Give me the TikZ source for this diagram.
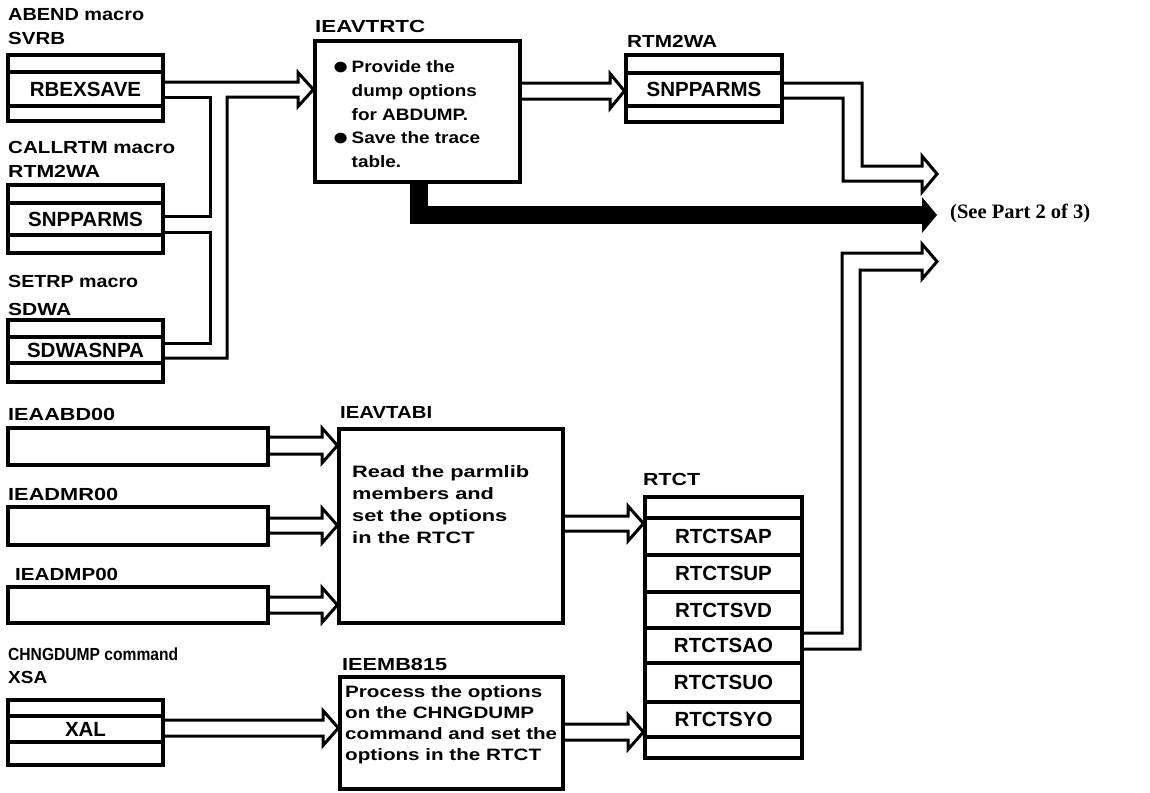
\documentclass[tikz,border=0pt]{standalone}
\usepackage{fontspec}
\usepackage{graphicx}
\setmainfont{Liberation Sans}
\newfontfamily\seriffont{Liberation Serif}
\newcommand\labw[2]{\resizebox{#1pt}{\height}{#2}}
\newcommand\bigbul{\makebox[17pt][l]{\raisebox{-1.2pt}{\scalebox{1.5}{●}}}}
\newcommand\hollowarr[5]{% #1 source anchor, #2 target anchor, #3 head base x, #4 centre y, #5 half gap
  \pgfmathsetmacro\hya{#4-#5}\pgfmathsetmacro\hyb{#4+#5}%
  \pgfmathsetmacro\hha{#4-17.5}\pgfmathsetmacro\hhb{#4+17.5}%
  \draw[hol] (#1 |- 0,\hya) -- (#3,\hya) -- (#3,\hha) -- (#2 |- 0,#4) -- (#3,\hhb) -- (#3,\hyb) -- (#1 |- 0,\hyb);}
\begin{document}
\begin{tikzpicture}[x=1pt,y=-1pt,
  rec/.style={draw, line width=3.2pt, inner sep=0pt, minimum width=155pt},
  fld/.style={font=\fontsize{20.5}{20.5}\selectfont\bfseries},
  lbl/.style={font=\fontsize{17.5}{17.5}\selectfont\bfseries, anchor=base west, inner sep=0pt},
  body/.style={anchor=base west, inner sep=0pt},
  hol/.style={line width=3pt, line join=miter},
  fat/.style={line width=18pt, line join=miter},
  proc/.style={draw, line width=3.2pt, inner sep=0pt},
]
\useasboundingbox (0,0) rectangle (1150,792);

% ---- SVRB record
\node[lbl] (labend) at (8,21) {\labw{136}{ABEND macro}};
\node[lbl] (lsvrb) at (8,45) {\labw{57}{SVRB}};
\node[rec, minimum height=17pt] (svrbT) at (85.5,63.5) {};
\node[rec, minimum height=34pt, fld] (svrb) at (85.5,89) {RBEXSAVE};
\node[rec, minimum height=15pt] (svrbB) at (85.5,113.5) {};

% ---- RTM2WA record (left)
\node[lbl] (lcall) at (8,153) {\labw{167}{CALLRTM macro}};
\node[lbl] (lrtm) at (8,177) {\labw{92}{RTM2WA}};
\node[rec, minimum height=18pt] (rtmT) at (85.5,194) {};
\node[rec, minimum height=32pt, fld] (rtm) at (85.5,219) {SNPPARMS};
\node[rec, minimum height=18pt] (rtmB) at (85.5,244) {};

% ---- SDWA record
\node[lbl] (lsetrp) at (8,287) {\labw{130}{SETRP macro}};
\node[lbl] (lsdwa) at (8,315) {\labw{63}{SDWA}};
\node[rec, minimum height=17pt] (sdwaT) at (85.5,328.5) {};
\node[rec, minimum height=26pt, fld] (sdwa) at (85.5,350) {SDWASNPA};
\node[rec, minimum height=19pt] (sdwaB) at (85.5,372.5) {};

% ---- parmlib members
\node[lbl] (labd) at (8,420) {\labw{107}{IEAABD00}};
\node[rec, minimum width=260pt, minimum height=37pt] (abd) at (138,446.5) {};
\node[lbl] (ldmr) at (8,500) {\labw{110}{IEADMR00}};
\node[rec, minimum width=260pt, minimum height=38pt] (dmr) at (138,526) {};
\node[lbl] (ldmp) at (15,580) {\labw{103}{IEADMP00}};
\node[rec, minimum width=260pt, minimum height=36pt] (dmp) at (138,605) {};

% ---- XSA record
\node[lbl] (lchng) at (8,660) {\labw{170}{CHNGDUMP command}};
\node[lbl] (lxsa) at (8,683) {\labw{39}{XSA}};
\node[rec, minimum height=16pt] (xsaT) at (85.5,708) {};
\node[rec, minimum height=26pt, fld] (xal) at (85.5,729) {XAL};
\node[rec, minimum height=23pt] (xsaB) at (85.5,753.5) {};

% ---- IEAVTRTC
\node[lbl] (ltrtc) at (315,33) {\labw{110}{IEAVTRTC}};
\node[proc, minimum width=205pt, minimum height=141pt] (trtc) at (417.5,111.5) {};
\node[body, font=\fontsize{16.5}{23.6}\selectfont\bfseries] (trtctxt) at (332,73)
  {\labw{148}{\begin{tabular}[t]{@{}l@{}}\bigbul Provide the\\ \hspace*{17pt}dump options\\ \hspace*{17pt}for ABDUMP.\\ \bigbul Save the trace\\ \hspace*{17pt}table.\end{tabular}}};

% ---- RTM2WA record (right)
\node[lbl] (lrtm2) at (627,48) {\labw{90}{RTM2WA}};
\node[rec, minimum width=156pt, minimum height=18pt] (rtm2T) at (704,64) {};
\node[rec, minimum width=156pt, minimum height=33pt, fld] (rtm2) at (704,89.5) {SNPPARMS};
\node[rec, minimum width=156pt, minimum height=16pt] (rtm2B) at (704,114) {};

% ---- IEAVTABI
\node[lbl] (ltabi) at (340,418) {\labw{92}{IEAVTABI}};
\node[proc, minimum width=224pt, minimum height=194pt] (tabi) at (451,526) {};
\node[body, font=\fontsize{16.5}{22}\selectfont\bfseries] (tabitxt) at (352,477)
  {\labw{177}{\begin{tabular}[t]{@{}l@{}}Read the parmlib\\ members and\\ set the options\\ in the RTCT\end{tabular}}};

% ---- IEEMB815
\node[lbl] (lmb) at (342,670) {\labw{105}{IEEMB815}};
\node[proc, minimum width=223pt, minimum height=112pt] (mb) at (451.5,733) {};
\node[body, font=\fontsize{16.5}{21}\selectfont\bfseries] (mbtxt) at (345,697)
  {\labw{212}{\begin{tabular}[t]{@{}l@{}}Process the options\\ on the CHNGDUMP\\ command and set the\\ options in the RTCT\end{tabular}}};

% ---- RTCT
\node[lbl] (lrtct) at (643,485) {\labw{57}{RTCT}};
\begin{scope}[every node/.append style={rec, minimum width=157pt}]
\node[minimum height=21pt] (rtctT) at (723.5,507.5) {};
\node[minimum height=37pt, fld] (sap) at (723.5,536.5) {RTCTSAP};
\node[minimum height=37pt, fld] (sup) at (723.5,573.5) {RTCTSUP};
\node[minimum height=36pt, fld] (svd) at (723.5,610) {RTCTSVD};
\node[minimum height=35pt, fld] (sao) at (723.5,645.5) {RTCTSAO};
\node[minimum height=39pt, fld] (suo) at (723.5,682.5) {RTCTSUO};
\node[minimum height=35pt, fld] (syo) at (723.5,719.5) {RTCTSYO};
\node[minimum height=21pt] (rtctB) at (723.5,747.5) {};
\end{scope}

% ---- free ends on the right
\coordinate (out1) at (937,174);
\coordinate (out2) at (937,215);
\coordinate (out3) at (937,261.5);
\node[font=\seriffont\bfseries\fontsize{20.5}{20.5}\selectfont, anchor=west, inner sep=0pt] (see) at (950,213) {(See Part 2 of 3)};

% ---- merged hollow arrow into IEAVTRTC
\draw[hol] (svrb.east |- 0,82) -- (298,82) -- (298,72.5) -- (trtc.west |- 0,89.5) -- (298,106.5) -- (298,97) -- (227,97) -- (227,358) -- (sdwa.east |- 0,358);
\draw[hol] (svrb.east |- 0,97) -- (210,97) -- (210,216) -- (rtm.east |- 0,216);
\draw[hol] (rtm.east |- 0,232) -- (210,232) -- (210,343) -- (sdwa.east |- 0,343);

% ---- straight hollow arrows
\hollowarr{trtc.east}{rtm2.west}{610}{91}{8}
\hollowarr{abd.east}{tabi.west}{322}{445.5}{8.5}
\hollowarr{dmr.east}{tabi.west}{322}{525.5}{7.5}
\hollowarr{dmp.east}{tabi.west}{322}{605}{8}
\hollowarr{tabi.east}{rtctT.west}{628}{523.5}{7.5}
\hollowarr{xal.east}{mb.west}{323}{728}{8}
\hollowarr{mb.east}{syo.west}{628}{732}{8}

% ---- outgoing hollow arrows
\draw[hol] (rtm2.east |- 0,83) -- (862,83) -- (862,166) -- (922,166) -- (922,156) -- (out1) -- (922,192) -- (922,181) -- (843,181) -- (843,98) -- (rtm2.east |- 0,98);
\draw[hol] (sao.east |- 0,633) -- (842,633) -- (842,253) -- (922,253) -- (922,244) -- (out3) -- (922,279) -- (922,270) -- (860,270) -- (860,649) -- (sao.east |- 0,649);

% ---- thick black arrow
\draw[fat] (trtc.south -| 419,0) -- (419,215) -- (922,215);
\fill (922,197) -- (out2) -- (922,233) -- cycle;
\end{tikzpicture}
\end{document}
